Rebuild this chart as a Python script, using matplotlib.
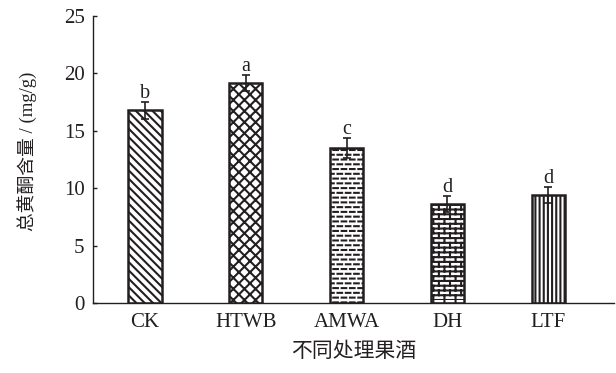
import warnings
import numpy as np
import matplotlib
matplotlib.use("Agg")
import matplotlib.pyplot as plt
from matplotlib import hatch as mhatch
from matplotlib.path import Path

warnings.filterwarnings('ignore', category=matplotlib.MatplotlibDeprecationWarning)

plt.rcParams['font.family'] = ['Liberation Serif', 'Noto Sans CJK SC']
plt.rcParams['hatch.linewidth'] = 1.5
plt.rcParams['axes.unicode_minus'] = False


# 自定义填充：'d' 错位短横线，'b' 砖墙
class DashHatch(mhatch.HatchPatternBase):
    def __init__(self, hatch, density):
        n = hatch.count('d')
        self.rows = 7 * n
        self.cols = 4 * n
        self.num_vertices = self.rows * self.cols * 2

    def set_vertices_and_codes(self, vertices, codes):
        k = 0
        for r in range(self.rows):
            y = (r + 0.5) / self.rows
            shift = 0.5 if r % 2 else 0.0
            for c in range(self.cols):
                x0 = (c + shift) / self.cols
                vertices[k] = (x0, y)
                vertices[k + 1] = (x0 + 0.55 / self.cols, y)
                codes[k] = Path.MOVETO
                codes[k + 1] = Path.LINETO
                k += 2


class BrickHatch(mhatch.HatchPatternBase):
    def __init__(self, hatch, density):
        n = hatch.count('b')
        self.rows = 7 * n
        self.cols = 3 * n
        self.num_vertices = (self.rows + self.rows * self.cols) * 2

    def set_vertices_and_codes(self, vertices, codes):
        k = 0
        h = 1.0 / self.rows
        for r in range(self.rows):
            vertices[k] = (0.0, r * h)
            vertices[k + 1] = (1.0, r * h)
            codes[k] = Path.MOVETO
            codes[k + 1] = Path.LINETO
            k += 2
            shift = 0.5 if r % 2 else 0.0
            for c in range(self.cols):
                x = (c + shift) / self.cols
                vertices[k] = (x, r * h)
                vertices[k + 1] = (x, (r + 1) * h)
                codes[k] = Path.MOVETO
                codes[k + 1] = Path.LINETO
                k += 2


mhatch._hatch_types.extend([DashHatch, BrickHatch])

# 各处理果酒总黄酮含量
groups = ['CK', 'HTWB', 'AMWA', 'DH', 'LTF']
flavonoid = [16.8, 19.2, 13.5, 8.6, 9.4]
flavonoid_sd = [0.75, 0.7, 0.85, 0.7, 0.7]
sig_letters = ['b', 'a', 'c', 'd', 'd']
hatches = ['\\\\\\\\', 'xxx', 'ddd', 'bbb', '||||']

ink = '#231f20'

fig = plt.figure(figsize=(6.16, 3.73), dpi=100)
ax = fig.add_axes([0.151, 0.188, 0.846, 0.769])

x = np.arange(len(groups))
ax.bar(x, flavonoid, width=0.33, color='white', edgecolor=ink,
       linewidth=1.8, hatch=hatches, zorder=2)
ax.errorbar(x, flavonoid, yerr=flavonoid_sd, fmt='none', ecolor=ink,
            elinewidth=1.2, capsize=3, capthick=1.2, zorder=3)

for xi, v, sd, lab in zip(x, flavonoid, flavonoid_sd, sig_letters):
    ax.text(xi, v + sd + 0.35, lab, ha='center', va='baseline',
            fontsize=14.5, color=ink)

ax.set_xlim(-0.516, 4.655)
ax.set_ylim(0, 25)
ax.set_yticks(np.arange(0, 26, 5))
ax.set_xticks(x)
ax.set_xticklabels(groups)

for side in ['top', 'right']:
    ax.spines[side].set_visible(False)
for side in ['left', 'bottom']:
    ax.spines[side].set_color(ink)
    ax.spines[side].set_linewidth(1.0)

ax.tick_params(axis='y', direction='in', length=3, width=1.0, colors=ink,
               labelsize=15, pad=6)
ax.tick_params(axis='x', length=0, labelsize=15, colors=ink, pad=7)

ax.set_ylabel('总黄酮含量 / (mg/g)', fontsize=13.5, color=ink)
ax.yaxis.set_label_coords(-0.108, 0.53)
ax.set_xlabel('不同处理果酒', fontsize=15, color=ink, labelpad=8)

fig.savefig('out.png', dpi=100)
